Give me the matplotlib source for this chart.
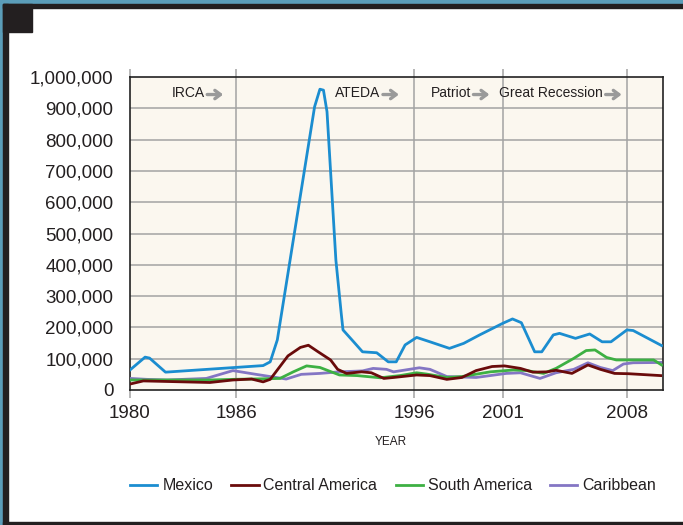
import matplotlib
matplotlib.use('Agg')
import matplotlib.pyplot as plt
from matplotlib.patches import Rectangle
from matplotlib.ticker import FuncFormatter

plt.rcParams['font.family'] = ['Liberation Sans', 'DejaVu Sans']

# Data (year, persons obtaining LPR status)
mex_years = [1980.0, 1980.85, 1981.1, 1982.0, 1987.5, 1987.9, 1988.3, 1990.4, 1990.7, 1990.9,
             1991.1, 1991.6, 1991.9, 1992.0, 1992.6, 1993.1, 1993.9, 1994.55, 1995.0, 1995.5,
             1996.15, 1996.9, 1998.0, 1998.8, 1999.7, 2001.0, 2001.55, 2002.05, 2002.8, 2003.2,
             2003.85, 2004.2, 2005.1, 2005.9, 2006.6, 2007.1, 2008.0, 2008.35, 2009.95]
mexico = [64000, 105000, 102000, 57000, 78000, 90000, 160000, 905000, 961000, 958000,
          889000, 415000, 245000, 192000, 154000, 122000, 119000, 90000, 90000, 144000,
          168000, 154000, 133000, 149000, 176000, 213000, 227000, 215000, 122000, 122000,
          176000, 181000, 165000, 179000, 154000, 154000, 192000, 190000, 142000]

cam_years = [1980.0, 1980.75, 1984.5, 1985.8, 1986.85, 1987.5, 1987.9, 1988.9, 1989.6, 1990.05,
             1990.6, 1991.3, 1991.7, 1992.2, 1993.05, 1993.6, 1994.3, 1994.85, 1996.15, 1996.9,
             1997.85, 1998.7, 1999.5, 2000.4, 2001.1, 2002.0, 2002.7, 2003.5, 2004.0, 2004.9,
             2005.8, 2006.5, 2007.3, 2008.1, 2009.9]
central_america = [19000, 29000, 24000, 32000, 35000, 26000, 34000, 109000, 136000, 143000,
                   122000, 96000, 66000, 53000, 58000, 55000, 37000, 40000, 48000, 46000,
                   34000, 40000, 62000, 75000, 77000, 69000, 57000, 58000, 63000, 53000,
                   80000, 66000, 53000, 52000, 46000]

sam_years = [1980.0, 1982.1, 1984.5, 1985.8, 1987.7, 1988.45, 1989.2, 1989.95, 1990.7, 1991.8,
             1992.8, 1994.1, 1995.2, 1996.15, 1996.7, 1997.85, 1998.7, 2000.3, 2001.6, 2002.35,
             2003.3, 2004.0, 2005.0, 2005.7, 2006.2, 2006.85, 2007.4, 2008.05, 2009.5, 2009.95]
south_america = [32000, 32000, 32000, 34000, 36000, 37000, 58000, 77000, 72000, 48000,
                 46000, 39000, 46000, 55000, 51000, 40000, 43000, 58000, 64000, 62000,
                 53000, 69000, 101000, 126000, 128000, 104000, 96000, 96000, 96000, 80000]

car_years = [1980.0, 1980.95, 1982.1, 1984.3, 1985.8, 1987.1, 1988.8, 1989.65, 1990.7, 1991.8,
             1993.1, 1993.7, 1994.45, 1994.85, 1996.3, 1996.9, 1997.85, 1999.5, 2001.2, 2002.0,
             2003.1, 2004.0, 2005.0, 2005.8, 2006.5, 2007.2, 2007.8, 2008.35, 2009.9]
caribbean = [37000, 34000, 32000, 37000, 62000, 50000, 35000, 50000, 53000, 58000,
             61000, 69000, 66000, 58000, 71000, 66000, 43000, 40000, 53000, 55000,
             37000, 55000, 66000, 87000, 72000, 62000, 83000, 87000, 88000]

tick_years = [1980, 1986, 1996, 2001, 2008]
events = ['IRCA', 'ATEDA', 'Patriot', 'Great Recession']
event_end = [1984.2, 1994.1, 1999.2, 2006.65]

fig = plt.figure(figsize=(6.83, 5.25), dpi=100)
W, H = 683, 525

# frame decoration
fig.patches.append(Rectangle((0, 0), 1, 1, transform=fig.transFigure, color='white', zorder=-3))
fig.patches.append(Rectangle((0, 1 - 4 / H), 1, 4 / H, transform=fig.transFigure, color='#5b9db9', zorder=-1))
fig.patches.append(Rectangle((0, 0), 3 / W, 1, transform=fig.transFigure, color='#5b9db9', zorder=-1))
fig.patches.append(Rectangle((3 / W, 1 - 8 / H), 1, 4 / H, transform=fig.transFigure, color='#231f20', zorder=-1))
fig.patches.append(Rectangle((3 / W, 0), 5 / W, 1 - 4 / H, transform=fig.transFigure, color='#231f20', zorder=-1))
fig.patches.append(Rectangle((3 / W, 1 - 32 / H), 29 / W, 28 / H, transform=fig.transFigure, color='#231f20', zorder=-1))
fig.patches.append(Rectangle((3 / W, 0), 1, 3 / H, transform=fig.transFigure, color='#231f20', zorder=-1))

ax = fig.add_axes([130 / W, 1 - 390 / H, 533 / W, 313 / H])
ax.set_facecolor('#fbf7ef')

lw = 2.0
ax.plot(mex_years, mexico, color='#1b8dd0', lw=lw, label='Mexico', zorder=5)
ax.plot(cam_years, central_america, color='#6a0b0b', lw=lw, label='Central America', zorder=6)
ax.plot(sam_years, south_america, color='#3db043', lw=lw, label='South America', zorder=4)
ax.plot(car_years, caribbean, color='#8476c4', lw=lw, label='Caribbean', zorder=3)

ax.set_xlim(1980, 2010.03)
ax.set_ylim(0, 1000000)
ax.set_yticks(range(0, 1000001, 100000))
ax.yaxis.set_major_formatter(FuncFormatter(lambda v, p: '{:,.0f}'.format(v)))
ax.set_xticks(tick_years)

for y in range(100000, 1000000, 100000):
    ax.axhline(y, color='#a3a3a3', lw=1.1, zorder=1)
for x in tick_years[1:]:
    ax.axvline(x, color='#a3a3a3', lw=1.1, zorder=1)

for s in ax.spines.values():
    s.set_color('#222222')
    s.set_linewidth(1.2)

ax.tick_params(axis='y', length=0, pad=12, labelsize=13.5, labelcolor='#231f20')
ax.tick_params(axis='x', length=6, width=1.1, color='#a3a3a3', top=True, direction='out',
               pad=5, labelsize=13.5, labelcolor='#231f20')

for lab, xe in zip(events, event_end):
    ax.text(xe, 948000, lab, ha='right', va='center', fontsize=10,
            color='#231f20', zorder=7)
    ax.annotate('', xy=(xe + 1.05, 944000), xytext=(xe + 0.15, 944000),
                arrowprops=dict(arrowstyle='->,head_length=0.4,head_width=0.3',
                                color='#9a9a9a', lw=2.4, shrinkA=0, shrinkB=0), zorder=7)

ax.set_xlabel('YEAR', fontsize=8.5, color='#231f20', labelpad=10)
ax.xaxis.label.set_position((0.49, 0))

leg = fig.legend(loc='center', bbox_to_anchor=(393 / W, 1 - 486 / H), ncol=4, frameon=False,
                 fontsize=11.5, handlelength=1.7, handletextpad=0.3, columnspacing=1.15,
                 labelcolor='#231f20')

plt.savefig('out.png', dpi=100)
